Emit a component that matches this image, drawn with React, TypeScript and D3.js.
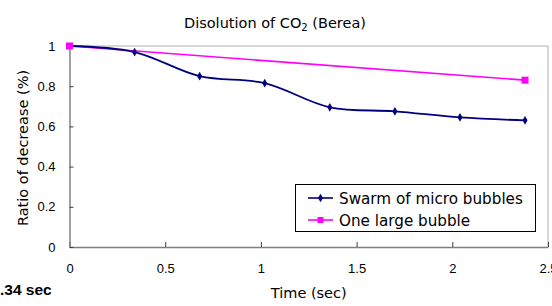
import React, { useEffect, useRef } from 'react';
import * as d3 from 'd3';

// Data
const swarmTime = [0, 0.34, 0.68, 1.02, 1.36, 1.7, 2.04, 2.38];
const swarmRatio = [1.0, 0.97, 0.85, 0.815, 0.695, 0.675, 0.645, 0.63];
const largeTime = [0, 2.38];
const largeRatio = [1.0, 0.83];
const xTicks = [0, 0.5, 1, 1.5, 2, 2.5];
const yTicks = [0, 0.2, 0.4, 0.6, 0.8, 1];
const seriesNames = ['Swarm of micro bubbles', 'One large bubble'];

const textFont = '"DejaVu Sans", sans-serif';
const tickFont = '"Liberation Sans", Arial, sans-serif';

export default function App() {
  const ref = useRef<SVGSVGElement>(null);

  useEffect(() => {
    const svgWidth = 552;
    const svgHeight = 306;

    const plotLeft = 69.5;
    const plotRight = 548;
    const plotTop = 46;
    const plotBottom = 247;

    const svg = d3.select(ref.current);
    svg.selectAll('*').remove();

    svg.append('rect')
      .attr('width', svgWidth)
      .attr('height', svgHeight)
      .attr('fill', 'white');

    const x = d3.scaleLinear().domain([0, 2.5]).range([plotLeft, plotRight]);
    const y = d3.scaleLinear().domain([0, 1]).range([plotBottom, plotTop]);

    // plot area border (top + right light gray)
    svg.append('path')
      .attr('d', `M${plotLeft},${plotTop}H${plotRight}V${plotBottom}`)
      .attr('fill', 'none')
      .attr('stroke', '#b0b0b0')
      .attr('stroke-width', 1);

    // x axis, ticks pointing inward
    const xAxis = svg.append('g')
      .attr('transform', `translate(0, ${plotBottom})`)
      .call(d3.axisBottom(x).tickValues(xTicks).tickSizeInner(-5).tickSizeOuter(0).tickPadding(17).tickFormat(d3.format('~g')));
    xAxis.select('.domain').attr('stroke', '#808080').attr('stroke-width', 1.5);
    xAxis.selectAll('.tick line').attr('stroke', '#404040');
    xAxis.selectAll('.tick text')
      .attr('fill', 'black')
      .attr('font-family', tickFont)
      .attr('font-size', 13);

    // y axis, ticks pointing inward
    const yAxis = svg.append('g')
      .attr('transform', `translate(${plotLeft}, 0)`)
      .call(d3.axisLeft(y).tickValues(yTicks).tickSizeInner(-4).tickSizeOuter(0).tickPadding(14).tickFormat(d3.format('~g')));
    yAxis.select('.domain').attr('stroke', '#808080').attr('stroke-width', 1.5);
    yAxis.selectAll('.tick line').attr('stroke', '#404040');
    yAxis.selectAll('.tick text')
      .attr('fill', 'black')
      .attr('font-family', tickFont)
      .attr('font-size', 13);

    // One large bubble
    const largePts: [number, number][] = largeTime.map((t, i) => [t, largeRatio[i]]);
    svg.append('path')
      .datum(largePts)
      .attr('fill', 'none')
      .attr('stroke', '#ff00ff')
      .attr('stroke-width', 1.6)
      .attr('d', d3.line<[number, number]>().x(d => x(d[0])).y(d => y(d[1])));

    // Swarm of micro bubbles (smoothed)
    const swarmPts: [number, number][] = swarmTime.map((t, i) => [t, swarmRatio[i]]);
    svg.append('path')
      .datum(swarmPts)
      .attr('fill', 'none')
      .attr('stroke', '#000080')
      .attr('stroke-width', 1.8)
      .attr('d', d3.line<[number, number]>().curve(d3.curveCatmullRom.alpha(0.5)).x(d => x(d[0])).y(d => y(d[1])));

    const diamond = d3.symbol().type(d3.symbolDiamond).size(22);
    svg.append('g')
      .selectAll('path')
      .data(swarmPts.slice(1))
      .enter()
        .append('path')
        .attr('d', diamond)
        .attr('fill', '#000080')
        .attr('transform', d => `translate(${x(d[0])}, ${y(d[1])})`);

    svg.append('g')
      .selectAll('rect')
      .data(largePts)
      .enter()
        .append('rect')
        .attr('x', d => x(d[0]) - 3.5)
        .attr('y', d => y(d[1]) - 3.5)
        .attr('width', 7)
        .attr('height', 7)
        .attr('fill', '#ff00ff');

    // Title
    const title = svg.append('text')
      .attr('x', 275)
      .attr('y', 28)
      .attr('text-anchor', 'middle')
      .attr('font-family', textFont)
      .attr('font-size', 14.5)
      .attr('fill', 'black');
    title.append('tspan').text('Disolution of CO');
    title.append('tspan').attr('font-size', 10).attr('dy', 3).text('2');
    title.append('tspan').attr('dy', -3).text(' (Berea)');

    // Axis titles
    svg.append('text')
      .attr('x', (plotLeft + plotRight) / 2)
      .attr('y', 298)
      .attr('text-anchor', 'middle')
      .attr('font-family', textFont)
      .attr('font-size', 14.5)
      .attr('fill', 'black')
      .text('Time (sec)');

    svg.append('text')
      .attr('transform', `translate(28, 148) rotate(-90)`)
      .attr('text-anchor', 'middle')
      .attr('font-family', textFont)
      .attr('font-size', 14.5)
      .attr('fill', 'black')
      .text('Ratio of decrease (%)');

    // Leftover caption at bottom left
    svg.append('text')
      .attr('x', 0)
      .attr('y', 295)
      .attr('font-family', tickFont)
      .attr('font-weight', 'bold')
      .attr('font-size', 15.5)
      .attr('fill', 'black')
      .text('.34 sec');

    // Legend
    const legend = svg.append('g').attr('transform', 'translate(295, 184)');
    legend.append('rect')
      .attr('x', 0.5)
      .attr('y', 0.5)
      .attr('width', 240)
      .attr('height', 47)
      .attr('fill', 'white')
      .attr('stroke', 'black')
      .attr('stroke-width', 1);

    const legendColors = ['#000080', '#ff00ff'];
    seriesNames.forEach((name, i) => {
      const ly = 14 + i * 22;
      legend.append('line')
        .attr('x1', 13)
        .attr('x2', 38)
        .attr('y1', ly)
        .attr('y2', ly)
        .attr('stroke', legendColors[i])
        .attr('stroke-width', 1.6);
      if (i === 0) {
        legend.append('path')
          .attr('d', diamond)
          .attr('fill', legendColors[i])
          .attr('transform', `translate(25.5, ${ly})`);
      } else {
        legend.append('rect')
          .attr('x', 22.5)
          .attr('y', ly - 3)
          .attr('width', 6)
          .attr('height', 6)
          .attr('fill', legendColors[i]);
      }
      legend.append('text')
        .attr('x', 44)
        .attr('y', ly + 5.5)
        .attr('font-family', textFont)
        .attr('font-size', 15.2)
        .attr('fill', 'black')
        .text(name);
    });
  }, []);

  return (
    <svg
      ref={ref}
      width={552}
      height={306}
      style={{ position: 'absolute', left: 0, top: 0 }}
    />
  );
}
